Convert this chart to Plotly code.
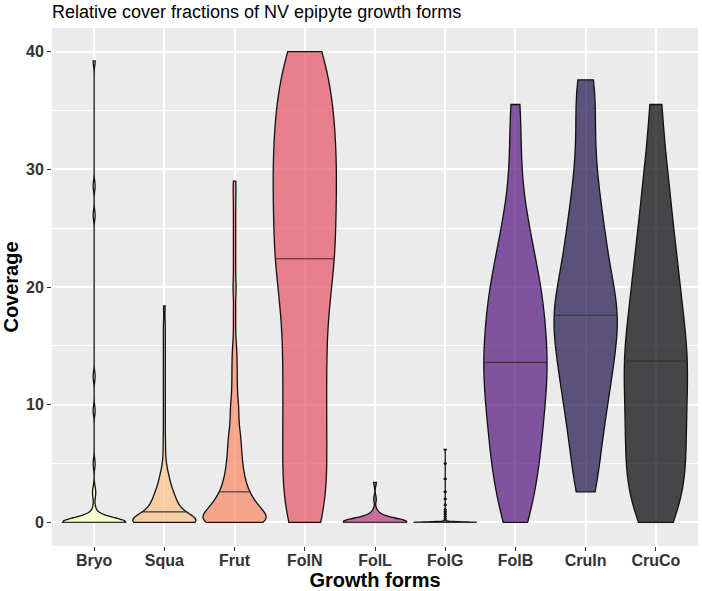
import math

import numpy as np
import plotly.graph_objects as go

# Growth forms (x categories) and coverage samples
categories = ["Bryo", "Squa", "Frut", "FolN", "FolL", "FolG", "FolB", "CruIn", "CruCo"]

bryo = [0, 0, 0, 0, 0, 0, 0, 0, 0, 0, 0, 0, 0, 0, 0, 0, 0, 0, 0, 0,
        0, 0, 0, 0, 0, 0, 0, 0, 0, 0,
        0.2, 0.4, 0.7, 1.2, 2.3, 2.8, 5.0, 9.5, 12.4, 26.1, 28.6, 39.2]
squa = [0, 0, 0, 0, 0, 0, 0, 0, 0, 0, 0, 0, 0, 0, 0, 0, 0, 0, 0, 0, 0, 0, 0, 0,
        0, 0, 0, 0, 0,
        0.1, 0.16, 0.23, 0.29, 0.36, 0.42, 0.49, 0.55, 0.62, 0.68, 0.75, 0.82,
        0.9,
        0.95, 1.02, 1.09, 1.16, 1.24, 1.32, 1.40, 1.48, 1.56, 1.65, 1.74, 1.83, 1.92, 2.02, 2.12,
        2.22, 2.33, 2.44,
        2.56, 2.7, 2.85, 3.0, 3.17, 3.35, 3.55, 3.77, 4.02, 4.3, 4.65,
        5.3, 6.2, 7.2, 8.4, 9.6, 10.8, 12.0, 13.2, 14.4, 15.6, 16.8, 18.4]
frut = [0, 0, 0, 0, 0, 0, 0, 0, 0, 0, 0, 0, 0, 0, 0, 0, 0, 0,
        0.05, 0.1, 0.16, 0.21, 0.27, 0.32, 0.38, 0.43, 0.49, 0.54, 0.6, 0.65, 0.71, 0.76, 0.82, 0.87,
        0.93, 0.98, 1.04, 1.09, 1.15, 1.2, 1.26, 1.31, 1.37, 1.42, 1.48, 1.53, 1.59, 1.64, 1.7, 1.75,
        1.84, 1.94, 2.04, 2.14, 2.24, 2.34, 2.44, 2.54,
        2.6,
        2.66, 2.78, 2.9, 3.02, 3.14, 3.27, 3.4, 3.53, 3.67, 3.81, 3.95,
        4.08, 4.25, 4.42, 4.59, 4.76, 4.93,
        5.1, 5.3, 5.5, 5.7, 5.9, 6.1, 6.3, 6.5, 6.75, 7.0, 7.2, 7.4,
        7.65, 7.95, 8.25, 8.6, 8.95, 9.3, 9.65, 9.95,
        10.3, 10.8, 11.3, 11.85, 12.4, 12.95, 13.5, 14.1, 14.7,
        15.5, 16.8, 18.1, 19.5, 20.3, 21.6, 22.9, 24.2, 25.5, 26.8, 28.0, 29.0]
foln = [0, 0, 1, 2.5, 3.5, 5, 6, 7.5, 8.5, 10, 11, 12.5, 13.5, 15, 16, 17.5, 18.5, 20, 21, 22,
        22.4,
        23, 24, 25, 26, 27, 28, 28.5, 29.5, 30, 31, 32, 33, 33.5, 34.5, 35.5, 36.5, 37.5, 38.5, 40, 40]
foll = [0, 0, 0, 0, 0, 0, 0, 0, 0, 0, 0, 0, 0, 0, 0, 0, 0, 0,
        0.05, 0.1, 0.15, 0.2, 0.25, 0.3, 0.4, 0.5, 0.7, 1.0, 2.0, 3.4]
folg = [0, 0, 0, 0, 0, 0, 0, 0, 0, 0, 0, 0, 0, 0, 0, 0, 0, 0, 0, 0,
        0, 0, 0, 0, 0, 0, 0, 0, 0, 0,
        0.15, 0.3, 0.5, 0.7, 0.9, 1.1, 1.5, 2.0, 2.6, 3.7, 5.0, 6.2]
folb = [0, 0.78, 2.25, 3.5, 4.4, 5.3, 6.2, 7.05, 7.9, 8.7, 9.5, 10.35, 11.1, 11.8, 12.45, 13.1,
        13.6,
        14.45, 15.25, 15.9, 16.6, 17.4, 18.1, 19.0, 19.8, 20.5, 21.5, 22.65, 23.95, 25.4, 27.6, 31.5, 35.5]
cruin = [2.6, 4.2, 6.4, 7.9, 9.2, 10.6, 11.6, 12.6, 13.5, 14.45, 15.4, 16.3, 17.2,
         17.6,
         18.1, 19.0, 20.0, 21.0, 22.1, 23.5, 24.6, 26.0, 27.8, 29.9, 32.7, 35.8, 37.6]
cruco = [0, 1.05, 2.1, 3.15, 4.2, 5.25, 6.3, 7.35, 8.4, 9.45, 10.5, 11.55, 12.6,
         13.7,
         14.2, 15.3, 16.4, 17.6, 18.8, 20.0, 21.35, 22.9, 24.4, 26.3, 28.6, 31.0, 35.5]

samples = [bryo, squa, frut, foln, foll, folg, folb, cruin, cruco]
bandwidths = [0.4, 0.6, 0.7, 3.5, 0.3, 0.05, 2.8, 2.8, 3.0]

# magma palette, reversed, drawn at alpha 0.7
colors = ["#FCFDBF", "#FEC287", "#FB8861", "#E65164", "#B63679",
          "#822681", "#51127C", "#1D1147", "#000004"]

VIOLIN_WIDTH = 0.9


def rgba(hex_color, alpha):
    h = hex_color.lstrip("#")
    r, g, b = int(h[0:2], 16), int(h[2:4], 16), int(h[4:6], 16)
    return f"rgba({r},{g},{b},{alpha})"


def kde(vals, bw, t):
    vals = np.asarray(vals, dtype=float)
    t = np.atleast_1d(np.asarray(t, dtype=float))
    z = (t[:, None] - vals[None, :]) / bw
    return np.exp(-0.5 * z ** 2).sum(axis=1)


def median_half_width(vals, bw):
    """Half-width of the violin at the median, same grid plotly.js uses."""
    lo, hi = min(vals), max(vals)
    n = math.ceil((hi - lo) / (bw / 3))
    grid = np.linspace(lo, hi, n + 1)
    dmax = kde(vals, bw, grid).max()
    med = float(np.median(vals))
    return med, VIOLIN_WIDTH / 2 * kde(vals, bw, med)[0] / dmax


fig = go.Figure()

for i, (name, vals, bw, col) in enumerate(zip(categories, samples, bandwidths, colors)):
    fig.add_trace(go.Violin(
        x=[i] * len(vals),
        y=vals,
        name=name,
        width=VIOLIN_WIDTH,
        scalemode="width",
        spanmode="hard",
        bandwidth=bw,
        fillcolor=rgba(col, 0.7),
        line=dict(color="#111111", width=1.3),
        points=False,
        box_visible=False,
        meanline_visible=False,
        showlegend=False,
    ))

# median lines (ggplot draw_quantiles = 0.5)
for i, (vals, bw) in enumerate(zip(samples, bandwidths)):
    med, hw = median_half_width(vals, bw)
    fig.add_trace(go.Scatter(
        x=[i - hw, i + hw], y=[med, med],
        mode="lines",
        line=dict(color="#333333", width=1.1),
        showlegend=False,
        hoverinfo="skip",
    ))

tick_font = dict(family="Liberation Sans, Arial, sans-serif", size=16, color="#333333", weight="bold")
title_font = dict(family="Liberation Sans, Arial, sans-serif", size=20, color="black", weight="bold")

fig.update_layout(
    width=702,
    height=591,
    title=dict(
        text="Relative cover fractions of NV epipyte growth forms",
        x=0, xref="paper", xanchor="left",
        y=1 - 12 / 591, yref="container", yanchor="middle",
        font=dict(family="Liberation Sans, Arial, sans-serif", size=18, color="black"),
    ),
    violinmode="overlay",
    violingap=0,
    paper_bgcolor="white",
    plot_bgcolor="#EBEBEB",
    margin=dict(l=52, r=4, t=28, b=45),
    showlegend=False,
)

fig.update_xaxes(
    range=[-0.6, 8.6],
    tickvals=list(range(len(categories))),
    ticktext=categories,
    showgrid=True, gridcolor="white", gridwidth=1.5,
    zeroline=False, showline=False,
    ticks="outside", ticklen=4, tickwidth=1, tickcolor="#333333",
    ticklabelstandoff=-4,
    tickfont=tick_font,
    automargin=False,
    title=dict(text="Growth forms", font=title_font, standoff=0),
)

fig.update_yaxes(
    range=[-2, 42],
    tick0=0, dtick=10,
    showgrid=True, gridcolor="white", gridwidth=1.5,
    minor=dict(dtick=5, showgrid=True, gridcolor="white", gridwidth=0.7),
    zeroline=False, showline=False,
    ticks="outside", ticklen=4, tickwidth=1, tickcolor="#333333",
    tickfont=tick_font,
    automargin=False,
    title=dict(text="Coverage", font=title_font, standoff=2),
)

# the page body has a default 8px margin; drop it so the figure sits at 0,0
fig.write_html(
    "out.html",
    config={"displayModeBar": False},
    post_script="document.body.style.margin = '0';",
)
